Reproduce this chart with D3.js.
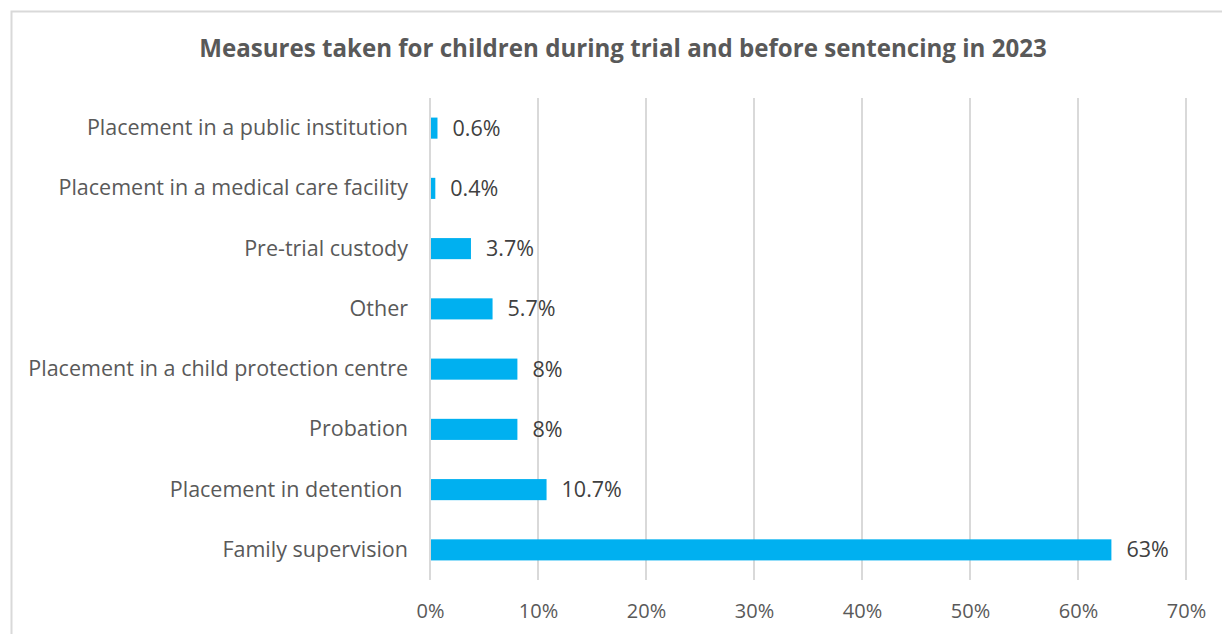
<!DOCTYPE html>
<html>
<head>
<meta charset="utf-8">
<style>
  body { margin: 0; background: #fff; }
  text { font-family: "Open Sans", "Noto Sans", sans-serif; }
</style>
</head>
<body>
<div id="chart_area"></div>

<script src="https://d3js.org/d3.v7.min.js"></script>

<script>
    // data (top to bottom)
    var categories = [
      "Placement in a public institution",
      "Placement in a medical care facility",
      "Pre-trial custody",
      "Other",
      "Placement in a child protection centre",
      "Probation",
      "Placement in detention ",
      "Family supervision"
    ];
    var values = [0.6, 0.4, 3.7, 5.7, 8, 8, 10.7, 63];
    var valueLabels = ["0.6%", "0.4%", "3.7%", "5.7%", "8%", "8%", "10.7%", "63%"];
    var xTicks = [0, 10, 20, 30, 40, 50, 60, 70];

    var W = 1222, H = 634;
    var margin = {top: 98, right: 36, bottom: 54, left: 430};
    var width = W - margin.left - margin.right,
        height = H - margin.top - margin.bottom;

    var svg = d3.select("#chart_area")
      .append("svg")
        .attr("width", W)
        .attr("height", H);

    // outer chart frame (cut off right and bottom)
    svg.append("rect")
      .attr("x", 11.5).attr("y", 11.5)
      .attr("width", 1240).attr("height", 660)
      .attr("fill", "none")
      .attr("stroke", "#d9d9d9")
      .attr("stroke-width", 2);

    svg.append("text")
      .attr("x", 623).attr("y", 57)
      .attr("text-anchor", "middle")
      .attr("font-size", "24.1px")
      .attr("font-weight", "bold")
      .attr("fill", "#595959")
      .text("Measures taken for children during trial and before sentencing in 2023");

    var g = svg.append("g")
      .attr("transform", "translate(" + margin.left + "," + margin.top + ")");

    var x = d3.scaleLinear()
      .domain([0, 70])
      .range([0, width]);

    var y = d3.scaleBand()
      .domain(categories)
      .range([0, height])
      .paddingInner(0.65)
      .paddingOuter(0.325);

    // vertical gridlines
    g.selectAll(".grid")
      .data(xTicks)
      .enter()
      .append("line")
        .attr("x1", function(d){ return x(d) })
        .attr("x2", function(d){ return x(d) })
        .attr("y1", 0)
        .attr("y2", height)
        .attr("stroke", "#d9d9d9")
        .attr("stroke-width", 2);

    // x axis labels
    var xAxis = g.append("g")
      .attr("transform", "translate(0," + height + ")")
      .call(d3.axisBottom(x).tickValues(xTicks).tickSize(0).tickPadding(24)
        .tickFormat(function(d){ return d + "%" }));
    xAxis.select(".domain").remove();
    xAxis.selectAll("text")
      .attr("font-size", "20px")
      .attr("font-family", "'Open Sans', sans-serif")
      .attr("fill", "#595959");

    // y axis labels (keep trailing space of "detention ")
    var yAxis = g.append("g")
      .call(d3.axisLeft(y).tickSize(0).tickPadding(22));
    yAxis.select(".domain").remove();
    yAxis.selectAll("text")
      .attr("font-size", "21.5px")
      .attr("font-family", "'Open Sans', sans-serif")
      .attr("fill", "#595959")
      .style("white-space", "pre");

    // bars
    g.selectAll(".bar")
      .data(values)
      .enter()
      .append("rect")
        .attr("x", x(0) + 1)
        .attr("y", function(d, i){ return y(categories[i]) })
        .attr("width", function(d){ return x(d) - x(0) })
        .attr("height", y.bandwidth())
        .attr("fill", "#00b0f0");

    // value labels
    g.selectAll(".val")
      .data(values)
      .enter()
      .append("text")
        .attr("x", function(d){ return x(d) + 16 })
        .attr("y", function(d, i){ return y(categories[i]) + y.bandwidth() / 2 })
        .attr("dy", "0.35em")
        .attr("font-size", "21.5px")
        .attr("fill", "#404040")
        .text(function(d, i){ return valueLabels[i] });
</script>
</body>
</html>
